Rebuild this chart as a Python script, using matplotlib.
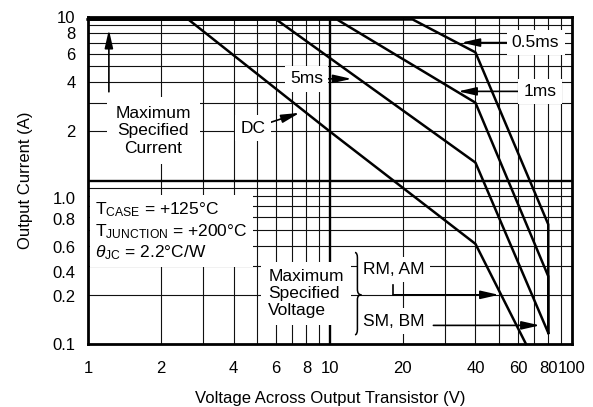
import matplotlib
matplotlib.use('Agg')
import matplotlib.pyplot as plt
from matplotlib.path import Path
from matplotlib.patches import PathPatch
from matplotlib.ticker import NullLocator

plt.rcParams['font.family'] = ['Liberation Sans', 'DejaVu Sans']
plt.rcParams['mathtext.fontset'] = 'custom'
plt.rcParams['mathtext.rm'] = 'Liberation Sans'
plt.rcParams['mathtext.it'] = 'Liberation Sans:italic'

# safe operating area boundaries, voltage (V) vs current (A)
dc_v = [1, 2.6, 10, 40, 64.7]
dc_i = [9.7, 9.7, 2.0, 0.41, 0.1]
ms5_v = [1, 6.0, 40, 80]
ms5_i = [9.7, 9.7, 1.29, 0.117]
ms1_v = [1, 10.7, 40, 80, 80]
ms1_i = [9.7, 9.7, 3.0, 0.26, 0.117]
ms05_v = [1, 22, 40, 80, 80]
ms05_i = [9.7, 9.7, 6.1, 0.54, 0.117]

xticks = [1, 2, 4, 6, 8, 10, 20, 40, 60, 80, 100]
xticklabels = ['1', '2', '4', '6', '8', '10', '20', '40', '60', '80', '100']
# lower decade labels sit a bit below their lines in the original sheet
yticks = [10, 8, 6, 4, 2, 0.787, 0.585, 0.395, 0.274, 0.198, 0.1]
yticklabels = ['10', '8', '6', '4', '2', '1.0', '0.8', '0.6', '0.4', '0.2', '0.1']
xgrid = [2, 3, 4, 5, 6, 7, 8, 9, 20, 30, 40, 50, 60, 70, 80, 90]
ygrid = [0.2, 0.3, 0.4, 0.5, 0.6, 0.7, 0.8, 0.9, 2, 3, 4, 5, 6, 7, 8, 9]

fig = plt.figure(figsize=(5.93, 4.07), dpi=100)
ax = fig.add_axes([88 / 593, 63 / 407, 483.7 / 593, 326.7 / 407])
ax.set_xscale('log')
ax.set_yscale('log')
ax.set_xlim(1, 100)
ax.set_ylim(0.1, 10)

ax.vlines(xgrid, 0.1, 10, color='#111111', lw=0.8, zorder=1)
ax.hlines(ygrid, 1, 100, color='#111111', lw=0.8, zorder=1)
ax.axvline(10, color='black', lw=1.7, zorder=1.5)
ax.axhline(1, color='black', lw=1.7, zorder=1.5)

for v, i in [(dc_v, dc_i), (ms5_v, ms5_i), (ms1_v, ms1_i), (ms05_v, ms05_i)]:
    ax.plot(v, i, color='black', lw=1.8, zorder=4, clip_on=False)

for s in ax.spines.values():
    s.set_linewidth(2.0)
    s.set_zorder(5)

ax.set_xticks(xticks, xticklabels)
ax.set_yticks(yticks, yticklabels)
ax.xaxis.set_minor_locator(NullLocator())
ax.yaxis.set_minor_locator(NullLocator())
ax.tick_params(length=0, labelsize=12)
ax.tick_params(axis='y', pad=9)
ax.tick_params(axis='x', pad=12)
ax.set_xlabel('Voltage Across Output Transistor (V)', fontsize=12, labelpad=11)
ax.set_ylabel('Output Current (A)', fontsize=12, labelpad=14)

fs = 12.5
box = dict(boxstyle='square,pad=0.3', fc='white', ec='none')
arrow = dict(arrowstyle='-|>,head_length=1.1,head_width=0.25', color='black',
             lw=1.2, mutation_scale=10, shrinkA=0, shrinkB=0)

ax.annotate('0.5ms', xy=(35, 7.0), xytext=(70.9, 7.0), ha='center', va='center',
            fontsize=fs, bbox=box, arrowprops=arrow, zorder=3)
ax.annotate('1ms', xy=(33.9, 3.52), xytext=(73.9, 3.52), ha='center', va='center',
            fontsize=fs, bbox=box, arrowprops=arrow, zorder=3)
ax.annotate('5ms', xy=(12.3, 4.2), xytext=(8.02, 4.2), ha='center', va='center',
            fontsize=fs, bbox=box, arrowprops=arrow, zorder=3)
ax.annotate('DC', xy=(7.5, 2.6), xytext=(4.82, 2.1), ha='center', va='center',
            fontsize=fs, bbox=box, arrowprops=arrow, zorder=3)

ax.text(1.86, 2.02, 'Maximum\nSpecified\nCurrent', ha='center', va='center',
        multialignment='center', fontsize=fs, zorder=3,
        bbox=dict(boxstyle='square,pad=0.5', fc='white', ec='none'))
ax.annotate('', xy=(1.22, 8.4), xytext=(1.22, 3.5), arrowprops=arrow, zorder=3)

ax.text(1.07, 0.49,
        '$\\mathrm{T}_{\\mathrm{CASE}}$ = +125°C\n'
        '$\\mathrm{T}_{\\mathrm{JUNCTION}}$ = +200°C\n'
        '$\\theta_{\\mathrm{JC}}$ = 2.2°C/W',
        ha='left', va='center', fontsize=fs, zorder=3,
        bbox=dict(boxstyle='square,pad=0.3', fc='white', ec='none'))

ax.text(5.57, 0.204, 'Maximum\nSpecified\nVoltage', ha='left', va='center',
        fontsize=fs, zorder=3, bbox=dict(boxstyle='square,pad=0.4', fc='white', ec='none'))
ax.text(13.75, 0.286, 'RM, AM', ha='left', va='center', fontsize=fs, zorder=3, bbox=box)
ax.text(13.75, 0.138, 'SM, BM', ha='left', va='center', fontsize=fs, zorder=3, bbox=box)

# curly brace joining the two voltage ratings
bx_l, bx_c, bx_t = 12.7, 13.0, 13.5
by = [0.363, 0.338, 0.216, 0.2, 0.187, 0.1227, 0.114]
verts = [(bx_l, by[0]), (bx_c, by[0]), (bx_c, by[1]),
         (bx_c, by[2]),
         (bx_c, by[3]), (bx_t, by[3]),
         (bx_c, by[3]), (bx_c, by[4]),
         (bx_c, by[5]),
         (bx_c, by[6]), (bx_l, by[6])]
codes = [Path.MOVETO, Path.CURVE3, Path.CURVE3, Path.LINETO,
         Path.CURVE3, Path.CURVE3, Path.CURVE3, Path.CURVE3,
         Path.LINETO, Path.CURVE3, Path.CURVE3]
ax.add_patch(PathPatch(Path(verts, codes), fc='none', ec='black', lw=1.1, zorder=3))

ax.plot([18.3, 18.3], [0.231, 0.2], color='black', lw=1.2, zorder=3)
ax.annotate('', xy=(50, 0.2), xytext=(18.3, 0.2), arrowprops=arrow, zorder=3)
ax.annotate('', xy=(73.9, 0.13), xytext=(26.8, 0.13), arrowprops=arrow, zorder=3)

fig.savefig('out.png', dpi=100)
